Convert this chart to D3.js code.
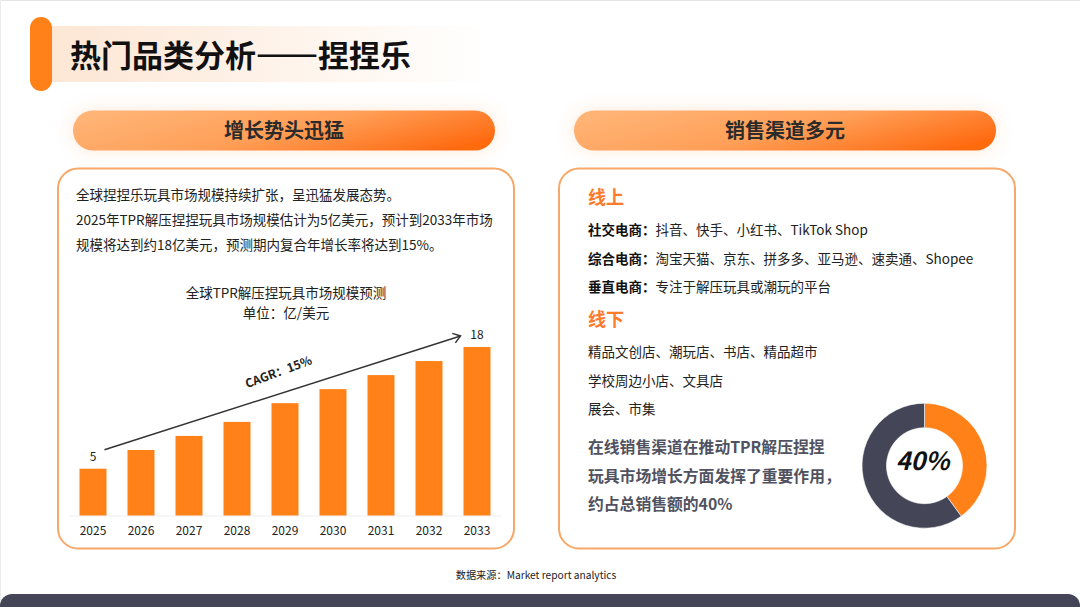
<!DOCTYPE html>
<html lang="zh">
<head>
<meta charset="UTF-8" />
<title>热门品类分析——捏捏乐</title>
<style>
  html, body { margin: 0; padding: 0; background: #fff; overflow: hidden; }
  svg { display: block; font-family: "Noto Sans CJK SC", "Noto Sans", sans-serif; }
</style>
</head>
<body>
<svg id="slide" width="1080" height="607"></svg>
<script src="https://cdn.jsdelivr.net/npm/d3@7/dist/d3.min.js"></script>
<script>
// chart data
const years = [2025, 2026, 2027, 2028, 2029, 2030, 2031, 2032, 2033];
const marketSize = [5, 7, 8.5, 10, 12, 13.5, 15, 16.5, 18];
const onlineShare = [40, 60];

// slide text
const introLines = [
  "全球捏捏乐玩具市场规模持续扩张，呈迅猛发展态势。",
  "2025年TPR解压捏捏玩具市场规模估计为5亿美元，预计到2033年市场",
  "规模将达到约18亿美元，预测期内复合年增长率将达到15%。"
];
const onlineRows = [
  ["社交电商：", "抖音、快手、小红书、TikTok Shop"],
  ["综合电商：", "淘宝天猫、京东、拼多多、亚马逊、速卖通、Shopee"],
  ["垂直电商：", "专注于解压玩具或潮玩的平台"]
];
const offlineRows = ["精品文创店、潮玩店、书店、精品超市", "学校周边小店、文具店", "展会、市集"];
const noteLines = ["在线销售渠道在推动TPR解压捏捏", "玩具市场增长方面发挥了重要作用，", "约占总销售额的40%"];

const orange = "#ff8118", slate = "#444658", ink = "#222";
const bodySize = 13.5;
const svg = d3.select("#slide");
const defs = svg.append("defs");

const fade = defs.append("linearGradient").attr("id", "titleFade");
fade.append("stop").attr("offset", 0).attr("stop-color", "#fde6d4");
fade.append("stop").attr("offset", 1).attr("stop-color", "#fff");

const pillFill = defs.append("linearGradient").attr("id", "pillFill")
  .attr("x1", 0).attr("y1", 0.3).attr("x2", 1).attr("y2", 0.7);
pillFill.append("stop").attr("offset", 0).attr("stop-color", "#ffb375");
pillFill.append("stop").attr("offset", 0.5).attr("stop-color", "#ff9f58");
pillFill.append("stop").attr("offset", 1).attr("stop-color", "#ff6a10");

const glow = defs.append("filter").attr("id", "glow")
  .attr("x", "-10%").attr("y", "-60%").attr("width", "120%").attr("height", "220%");
glow.append("feDropShadow").attr("dx", 0).attr("dy", 0).attr("stdDeviation", 9)
  .attr("flood-color", "#ff9a50").attr("flood-opacity", 0.22);

const arrow = defs.append("marker").attr("id", "arrowHead")
  .attr("viewBox", "-8 -6 10 12").attr("refX", 0).attr("refY", 0)
  .attr("markerWidth", 10).attr("markerHeight", 12)
  .attr("markerUnits", "userSpaceOnUse").attr("orient", "auto");
arrow.append("path").attr("d", "M-7,-5L0,0L-7,5").attr("fill", "none")
  .attr("stroke", "#333").attr("stroke-width", 1.5);

function label(x, y, str, size, opts = {}) {
  return svg.append("text").attr("x", x).attr("y", y).text(str)
    .attr("font-size", size)
    .attr("font-weight", opts.weight || 400)
    .attr("fill", opts.fill || ink)
    .attr("text-anchor", opts.anchor || "start");
}

// page edge and footer
svg.append("rect").attr("width", 1080).attr("height", 1).attr("fill", "#e4e4e4");
svg.append("rect").attr("width", 1).attr("height", 607).attr("fill", "#ececec");
svg.append("path").attr("d", "M0,607V606A12,12 0 0 1 12,594H1068A12,12 0 0 1 1080,606V607Z").attr("fill", slate);

// title, the dashes get a stroke because the font draws them thin
svg.append("rect").attr("x", 50).attr("y", 26).attr("width", 440).attr("height", 56).attr("fill", "url(#titleFade)");
svg.append("rect").attr("x", 30).attr("y", 17).attr("width", 22).attr("height", 74).attr("rx", 11).attr("fill", orange);
const titleText = label(70, 67, "", 31, { weight: 700, fill: "#111" });
titleText.append("tspan").text("热门品类分析");
titleText.append("tspan").text("——").attr("stroke", "#111").attr("stroke-width", 1.2);
titleText.append("tspan").text("捏捏乐");

// section headers and cards
[[73, "增长势头迅猛"], [574, "销售渠道多元"]].forEach(([x, title]) => {
  svg.append("rect").attr("x", x).attr("y", 110.5).attr("width", 422).attr("height", 40).attr("rx", 20)
    .attr("fill", "url(#pillFill)").attr("filter", "url(#glow)");
  label(x + 211, 138, title, 20, { weight: 700, anchor: "middle", fill: "#2b2b2b" });
});
[58, 559].forEach(x => {
  svg.append("rect").attr("x", x).attr("y", 168.5).attr("width", 456).attr("height", 380).attr("rx", 20)
    .attr("fill", "#fff").attr("stroke", "#f7a868").attr("stroke-width", 2);
});

// left card text
introLines.forEach((line, i) => label(76, 200 + i * 25, line, bodySize));
label(286, 298, "全球TPR解压捏玩具市场规模预测", bodySize, { anchor: "middle" });
label(286, 318, "单位：亿/美元", bodySize, { anchor: "middle" });

// bar chart
const x = d3.scaleBand().domain(years).range([69, 501]).paddingInner(0.4375).paddingOuter(0.21875);
const y = d3.scaleLinear().domain([0, 18]).range([515.5, 347]);

const axis = svg.append("g").attr("transform", `translate(0,${y(0)})`)
  .call(d3.axisBottom(x).tickSize(0).tickPadding(11))
  .attr("font-family", null);
axis.select(".domain").attr("stroke", "#eeeeee").attr("stroke-width", 1);
axis.selectAll("text").attr("font-size", 12).attr("fill", ink);

svg.append("g").selectAll("rect").data(marketSize).join("rect")
  .attr("x", (d, i) => x(years[i]))
  .attr("y", d => y(d))
  .attr("width", x.bandwidth())
  .attr("height", d => y(0) - y(d))
  .attr("fill", orange);

// only the first and last bars carry a value label
[0, marketSize.length - 1].forEach(i => {
  label(x(years[i]) + x.bandwidth() / 2, y(marketSize[i]) - 8, marketSize[i], 12, { anchor: "middle" });
});

// CAGR arrow, anchored to the first and last bars
const arrowStart = [x(years[0]) + x.bandwidth() - 2, y(marketSize[0]) - 19];
const arrowEnd = [x(years[8]) - 3, y(marketSize[8]) - 11];
svg.append("line")
  .attr("x1", arrowStart[0]).attr("y1", arrowStart[1])
  .attr("x2", arrowEnd[0]).attr("y2", arrowEnd[1])
  .attr("stroke", "#333").attr("stroke-width", 1.5)
  .attr("marker-end", "url(#arrowHead)");
label(0, 0, "CAGR：15%", 12, { weight: 700, anchor: "middle" })
  .attr("transform", "translate(280,376) rotate(-20.5)");

// right card text
label(588, 204, "线上", 18, { weight: 700, fill: "#ff7a28" });
onlineRows.forEach(([head, rest], i) => {
  const rowY = 235 + i * 28.5;
  label(588, rowY, head, bodySize, { weight: 700, fill: "#111" });
  label(655.5, rowY, rest, bodySize);
});
label(588, 326, "线下", 18, { weight: 700, fill: "#ff7a28" });
offlineRows.forEach((line, i) => label(588, 357 + i * 28.5, line, bodySize));
noteLines.forEach((line, i) => label(588, 453 + i * 28.5, line, 15.8, { weight: 700, fill: "#50525f" }));

// donut
const pie = d3.pie().sort(null)(onlineShare);
const arc = d3.arc().innerRadius(38).outerRadius(62.5);
const colors = [orange, slate];
svg.append("g").attr("transform", "translate(924.5,465.7)")
  .selectAll("path").data(pie).join("path")
  .attr("d", arc).attr("fill", (d, i) => colors[i])
  .attr("stroke", "#fff").attr("stroke-width", 0.6);
label(922.5, 470, onlineShare[0] + "%", 25, { weight: 700, anchor: "middle", fill: "#111" })
  .attr("font-style", "italic");

// source
label(536, 579, "数据来源：Market report analytics", 10.2, { anchor: "middle" });
</script>
</body>
</html>
